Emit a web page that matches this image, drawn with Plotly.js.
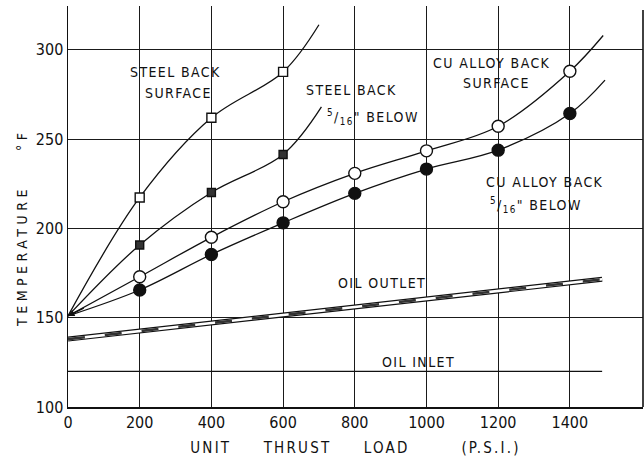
<!DOCTYPE html>
<html>
<head>
<meta charset="utf-8">
<script src="https://cdn.plot.ly/plotly-3.0.1.min.js"></script>
<style>
html,body{margin:0;padding:0;background:#fff;}
#chart{width:644px;height:466px;}
.main-svg text{font-stretch:condensed;}
.annotation-text{letter-spacing:1.4px;}
.g-xtitle text{letter-spacing:2.2px;}
</style>
</head>
<body>
<div id="chart"></div>
<script>
// Unit thrust load (psi) and temperatures (°F). First/last entries are curve start/end (no marker).
const steelSurfX = [0, 200, 400, 600, 700];
const steelSurfY = [151, 217.3, 261.9, 287.6, 314];
const steelBelowX = [0, 200, 400, 600, 707];
const steelBelowY = [151, 190.7, 220.1, 241.4, 268];
const cuSurfX = [0, 200, 400, 600, 800, 1000, 1200, 1400, 1493];
const cuSurfY = [151, 172.9, 195.0, 214.9, 230.8, 243.4, 257.2, 288.0, 308];
const cuBelowX = [0, 200, 400, 600, 800, 1000, 1200, 1400, 1498];
const cuBelowY = [151, 165.5, 185.4, 203.1, 219.6, 233.2, 243.8, 264.3, 283];
const oilOutletX = [0, 1490];
const oilOutletY = [138, 171.5];
const oilInletX = [0, 1490];
const oilInletY = [120, 120];
const xTicks = [0, 200, 400, 600, 800, 1000, 1200, 1400];
const yTicks = [100, 150, 200, 250, 300];

const FONT = '"DejaVu Sans Condensed","DejaVu Sans",sans-serif';

function inner(a){ return a.slice(1, a.length-1); }

function curve(x, y){
  return {x:x, y:y, mode:'lines', line:{color:'#111', width:1.3, shape:'spline', smoothing:1.0}, hoverinfo:'skip', showlegend:false};
}
function marks(x, y, symbol, size, fill){
  return {x:inner(x), y:inner(y), mode:'markers', showlegend:false, hoverinfo:'skip',
    marker:{symbol:symbol, size:size, color:fill, line:{color:'#111', width:1.4}}};
}

const traces = [
  curve(steelSurfX, steelSurfY),
  curve(steelBelowX, steelBelowY),
  curve(cuSurfX, cuSurfY),
  curve(cuBelowX, cuBelowY),
  {x:oilInletX, y:oilInletY, mode:'lines', line:{color:'#111', width:1.3}, showlegend:false, hoverinfo:'skip'},
  {x:oilOutletX, y:oilOutletY, mode:'lines', line:{color:'#111', width:5}, showlegend:false, hoverinfo:'skip'},
  {x:oilOutletX, y:oilOutletY, mode:'lines', line:{color:'#fff', width:2.6}, showlegend:false, hoverinfo:'skip'},
  {x:oilOutletX, y:oilOutletY, mode:'lines', line:{color:'#333', width:2.6, dash:'17px,20px'}, showlegend:false, hoverinfo:'skip'},
  marks(steelSurfX, steelSurfY, 'square', 9, '#fff'),
  marks(steelBelowX, steelBelowY, 'square', 8, '#333'),
  marks(cuSurfX, cuSurfY, 'circle', 12, '#fff'),
  marks(cuBelowX, cuBelowY, 'circle', 12, '#111')
];

function note(text, x, y, size){
  return {text:text, x:x, y:y, xref:'x', yref:'y', showarrow:false,
    font:{family:FONT, size:size||14, color:'#111'}, xanchor:'center', yanchor:'middle'};
}
const NB = '\u00A0';
const FRAC = '<sup>5</sup>/<sub>16</sub>"' + NB + 'BELOW';
const Y_TITLE = 'TEMPERATURE' + NB.repeat(4) + '°F';
const annotations = [
  note('STEEL BACK', 301, 287.5),
  note('SURFACE', 307, 275.7),
  note('STEEL BACK', 792, 277.4),
  note(FRAC, 850, 262.3),
  note('CU ALLOY BACK', 1180, 292.5),
  note('SURFACE', 1194, 281.3),
  note('CU ALLOY BACK', 1330, 225.9),
  note(FRAC, 1306, 213),
  note('OIL OUTLET', 876, 169.4),
  note('OIL INLET', 979, 125.2),
  {x:0, y:151, ax:55, ay:156.5, xref:'x', yref:'y', axref:'x', ayref:'y', showarrow:true,
   arrowhead:2, arrowsize:1, arrowwidth:1.3, arrowcolor:'#111', text:' '},
  {text:Y_TITLE, x:-0.08, y:200.4, xref:'paper', yref:'y', showarrow:false, textangle:-90,
   xanchor:'center', yanchor:'middle', font:{family:FONT, size:14, color:'#111'}}
];

const layout = {
  width:644, height:466,
  margin:{l:68, r:1, t:6, b:59},
  paper_bgcolor:'#fff', plot_bgcolor:'#fff',
  font:{family:FONT, color:'#111'},
  xaxis:{range:[0, 1604], tickvals:xTicks, ticks:'', showgrid:true, gridcolor:'#1a1a1a', gridwidth:1,
    zeroline:false, showline:true, linecolor:'#111', linewidth:1.5,
    tickfont:{family:FONT, size:16, color:'#111'},
    title:{text:'UNIT' + NB.repeat(5) + 'THRUST' + NB.repeat(5) + 'LOAD' + NB.repeat(8) + '(P.S.I.)',
      font:{family:FONT, size:15, color:'#111'}, standoff:12}},
  yaxis:{range:[100, 324.5], tickvals:yTicks, ticks:'', showgrid:true, gridcolor:'#1a1a1a', gridwidth:1,
    zeroline:false, showline:true, linecolor:'#111', linewidth:1.5,
    tickfont:{family:FONT, size:16, color:'#111'}},
  shapes:[
    {type:'line', xref:'paper', yref:'paper', x0:1, x1:1, y0:0, y1:0.99, line:{color:'#111', width:1.6}}
  ],
  annotations:annotations,
  showlegend:false
};

Plotly.newPlot('chart', traces, layout, {staticPlot:true, displayModeBar:false}).then(function(gd){
  gd.querySelectorAll('.annotation-text').forEach(function(t){
    if (t.textContent.indexOf('TEMPERATURE') === 0) t.style.letterSpacing = '4.5px';
  });
});
</script>
</body>
</html>
